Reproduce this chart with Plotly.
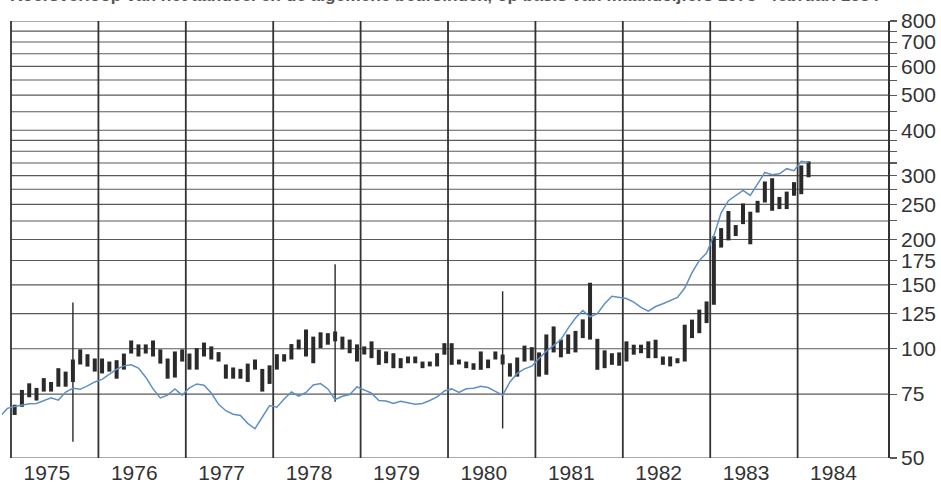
import plotly.graph_objects as go

# ---------------- data ----------------
start_year, start_month = 1975, 1          # first monthly bar
bar_high = [70.1, 77, 80.3, 78, 83, 81, 88.4, 86.5, 93.4, 99.6, 96.6, 94,
            94, 92.2, 93, 97, 105.4, 102.8, 102.8, 105.4, 99.6, 94, 98.3, 99.6,
            97, 100.4, 104, 101.5, 97.9, 90.5, 88.8, 88, 91, 93.4, 88, 90,
            96.6, 96.6, 103, 106, 113, 108, 111, 110.4, 111.6, 108, 106, 102.8,
            101.5, 104.8, 99.4, 98.3, 97.2, 94.2, 95.2, 95.2, 92.2, 92.2, 97.2, 103.6,
            103.6, 93.4, 92.2, 91.2, 98.3, 93.4, 98.3, 96.4, 91.2, 94.6, 102, 101,
            97.7, 109.5, 115.2, 106, 109.5, 112, 120.5, 152, 106.5, 99, 97.2, 97.7,
            104.8, 102.6, 102.6, 104.8, 105.9, 95.2, 95.2, 94.2, 116.5, 120.3, 128.2, 135,
            204, 215, 239.6, 219.2, 251.4, 238.6, 255.6, 289, 295, 262, 271, 287.8,
            320, 328.4]
bar_low = [65.7, 69.2, 73.5, 72, 76.2, 76.2, 78.6, 78.6, 81, 90.5, 89.3, 86.5,
           85.5, 86.5, 82.7, 87.6, 97, 95.2, 97, 95.2, 91, 82.7, 83.3, 92.2,
           87.6, 87.6, 95.2, 93.4, 92.2, 82.7, 82.7, 82.7, 81, 87.6, 76.2, 80,
           87.6, 92.2, 93.4, 99.6, 95.2, 91.2, 100.4, 102.6, 104.8, 99.6, 97.2, 92.2,
           96.4, 94.2, 90.3, 91.2, 88.4, 88.4, 91.2, 91.2, 88.4, 89.4, 89.4, 96.3,
           90.3, 90.5, 88.4, 87.5, 87.5, 88.4, 93.4, 90.5, 83.8, 83.8, 92.2, 92.8,
           83.8, 84.8, 97.7, 94.7, 96.8, 97.7, 107, 106, 87.5, 88.4, 90.3, 89.8,
           92.2, 96.3, 97.2, 94.2, 94.2, 90.3, 89.4, 91.2, 92.2, 107, 110.4, 117.7,
           132.2, 190, 198.9, 204.5, 220.5, 194, 237.3, 252.9, 240, 242.6, 242.6, 264,
           266.6, 296.8]

# thin long spikes (month index from start, high, low)
spike_month = [8, 44, 67]
spike_high = [134, 171, 144]
spike_low = [55.4, 71.5, 60.3]

# blue line, monthly from November 1974
line_start_year, line_start_month = 1974, 11
line_values = [65, 68.5, 69.3, 70, 70.5, 70.7, 72, 73.3, 72.2, 76, 77.8, 77.3,
               79, 81, 82.3, 85, 87.8, 89.7, 90.3, 88.5, 83.5, 77.5, 73.2, 74.5,
               77.5, 74.5, 78, 80, 79.3, 75.5, 70.3, 67.5, 66, 65.5, 62.3, 60.2,
               64.5, 69.7, 69, 72.7, 76, 74, 75.8, 79.5, 80.2, 77.5, 72.5, 74,
               74.8, 78.5, 77, 75.4, 72, 71.8, 70.7, 71.7, 71, 70.3, 70.7, 72,
               73.7, 76.5, 77.5, 75.8, 77.6, 77.8, 78.8, 78.2, 76.3, 74.5, 81, 85.5,
               88, 89.5, 94, 98.5, 102, 106, 114, 121.5, 127.4, 122.5, 125, 133,
               139.5, 138.8, 137.5, 134.5, 130, 127, 130.7, 133, 136, 138.5, 147, 162,
               175, 183.5, 205, 237, 255.8, 265, 273, 264.5, 284, 306, 301.5, 303.5,
               313.5, 309.6, 328.5, 326]

years = [1975, 1976, 1977, 1978, 1979, 1980, 1981, 1982, 1983, 1984]
y_grid = [50, 75, 100, 125, 150, 175, 200, 225, 250, 275, 300, 325, 350, 375,
          400, 450, 500, 550, 600, 650, 700, 750, 800]
y_labels = {50: "50", 75: "75", 100: "100", 125: "125", 150: "150", 175: "175",
            200: "200", 250: "250", 300: "300", 400: "400", 500: "500",
            600: "600", 700: "700", 800: "800"}
title_text = ("Koersverloop van het aandeel en de algemene beursindex, "
              "op basis van maandcijfers 1975 - februari 1984")

# ---------------- helpers ----------------
def month_pos(y0, m0, i):
    m = m0 - 1 + i
    return y0 + m // 12 + ((m % 12) + 0.5) / 12.0

bar_x = [month_pos(start_year, start_month, i) for i in range(len(bar_high))]
line_x = [month_pos(line_start_year, line_start_month, i) for i in range(len(line_values))]

X0, X1 = 1974.897, 1985.034

bx, by = [], []
for x, h, l in zip(bar_x, bar_high, bar_low):
    bx += [x, x, None]
    by += [l, h, None]
sx, sy = [], []
for i, h, l in zip(spike_month, spike_high, spike_low):
    x = bar_x[i]
    sx += [x, x, None]
    sy += [l, h, None]

fig = go.Figure()
fig.add_trace(go.Scatter(x=sx, y=sy, mode="lines",
                         line=dict(color="#2a2a2a", width=1.4), hoverinfo="skip"))
fig.add_trace(go.Scatter(x=bx, y=by, mode="lines",
                         line=dict(color="#2a2a2a", width=4), hoverinfo="skip"))
fig.add_trace(go.Scatter(x=line_x, y=line_values, mode="lines",
                         line=dict(color="#5f8fc6", width=1.5), hoverinfo="skip"))

shapes = []
for v in y_grid:
    shapes.append(dict(type="line", xref="x", yref="y", x0=1975, x1=X1, y0=v, y1=v,
                       line=dict(color="#5a5a5a", width=1.1), layer="below"))
for yr in years:
    shapes.append(dict(type="line", xref="x", yref="y", x0=yr, x1=yr, y0=50, y1=800,
                       line=dict(color="#333333", width=1.8), layer="below"))

fig.update_layout(
    width=941, height=486,
    margin=dict(l=2, r=53, t=21, b=28, pad=0),
    paper_bgcolor="white", plot_bgcolor="white",
    showlegend=False,
    shapes=shapes,
    font=dict(family="Liberation Sans, Arial, sans-serif", color="#333333"),
    xaxis=dict(range=[X0, X1], showgrid=False, zeroline=False, showline=False,
               tickvals=[y + 0.41 for y in years], ticktext=[str(y) for y in years],
               ticks="", tickfont=dict(size=21, color="#333333")),
    yaxis=dict(type="log", range=[1.69897, 2.90309], side="right",
               showgrid=False, zeroline=False,
               showline=True, linecolor="#333333", linewidth=1.8,
               tickvals=y_grid, ticktext=[y_labels.get(v, "") for v in y_grid],
               ticks="outside", ticklen=7, tickcolor="#5a5a5a", tickwidth=1.1,
               tickfont=dict(size=21, color="#333333")),
    annotations=[dict(text="<b>" + title_text + "</b>", xref="paper", yref="paper",
                      x=0.993, y=1.031, xanchor="right", yanchor="bottom",
                      showarrow=False, font=dict(size=17.3, color="#555555"))],
)

fig.write_html("out.html",
               config={"displayModeBar": False, "staticPlot": True},
               post_script="document.body.style.margin='0';document.body.style.padding='0';")
